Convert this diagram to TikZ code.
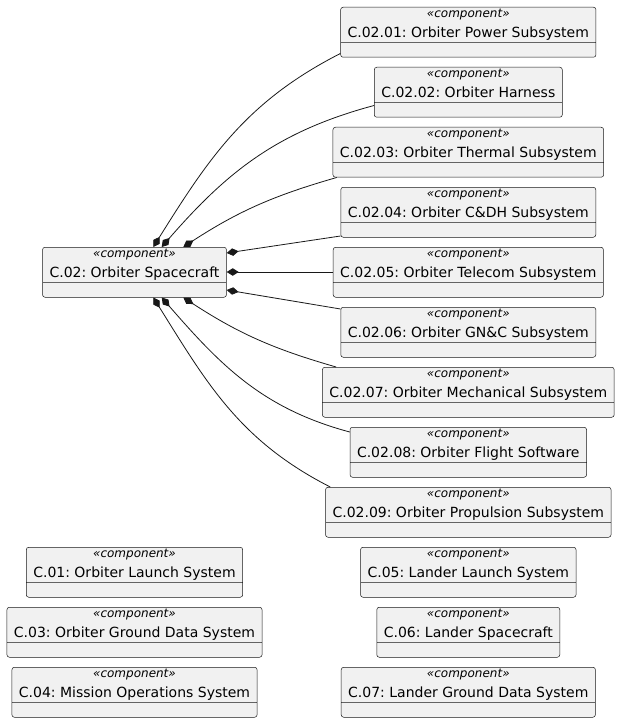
\documentclass[tikz,border=0pt]{standalone}
\usepackage{fontspec}
\setmainfont{DejaVu Sans}
\frenchspacing
\usetikzlibrary{shapes.multipart,arrows.meta,positioning}
\definecolor{boxfill}{HTML}{F1F1F1}
\definecolor{boxline}{HTML}{181818}
\newcommand{\compname}[1]{\rule{0pt}{10pt}{\fontsize{12}{12}\selectfont\itshape «component»}\\#1\rule[-5pt]{0pt}{5pt}\nodepart{two}\rule{0pt}{14.3pt}}

\begin{document}
\begin{tikzpicture}[x=1pt, y=1pt, node distance=9.5pt,
    comp/.style={rectangle split, rectangle split parts=2, draw=boxline, fill=boxfill,
      line width=0.5pt, rounded corners=2.5pt, inner xsep=7pt, inner ysep=0pt,
      align=center, font=\fontsize{14}{19.7}\selectfont, anchor=north},
    part/.style={{Diamond[length=12pt,width=7.5pt]}-, line width=0.8pt, draw=boxline}]
    \useasboundingbox (0,0) rectangle (619,-722);

    % orbiter and its subsystems
    \node (orbiter) [comp] at (134.5,-247) {\compname{C.02: Orbiter Spacecraft}};
    \node (power) [comp] at (468.3,-7) {\compname{C.02.01: Orbiter Power Subsystem}};
    \node (harness) [comp, below=of power] {\compname{C.02.02: Orbiter Harness}};
    \node (thermal) [comp, below=of harness] {\compname{C.02.03: Orbiter Thermal Subsystem}};
    \node (cdh) [comp, below=of thermal] {\compname{C.02.04: Orbiter C\&DH Subsystem}};
    \node (telecom) [comp, below=of cdh] {\compname{C.02.05: Orbiter Telecom Subsystem}};
    \node (gnc) [comp, below=of telecom] {\compname{C.02.06: Orbiter GN\&C Subsystem}};
    \node (mech) [comp, below=of gnc] {\compname{C.02.07: Orbiter Mechanical Subsystem}};
    \node (fsw) [comp, below=of mech] {\compname{C.02.08: Orbiter Flight Software}};
    \node (prop) [comp, below=of fsw] {\compname{C.02.09: Orbiter Propulsion Subsystem}};

    % other systems
    \node (olaunch) [comp] at (134.5,-547) {\compname{C.01: Orbiter Launch System}};
    \node (ogds) [comp, below=of olaunch] {\compname{C.03: Orbiter Ground Data System}};
    \node (mos) [comp, below=of ogds] {\compname{C.04: Mission Operations System}};
    \node (llaunch) [comp, below=of prop] {\compname{C.05: Lander Launch System}};
    \node (lander) [comp, below=of llaunch] {\compname{C.06: Lander Spacecraft}};
    \node (lgds) [comp, below=of lander] {\compname{C.07: Lander Ground Data System}};

    \draw [part] ([xshift=18.8pt]orbiter.north) to[out=58,in=207] ([yshift=4pt]power.south west);
    \draw [part] ([xshift=27.2pt]orbiter.north) to[out=49,in=195] ([yshift=12pt]harness.south west);
    \draw [part] ([xshift=48.8pt]orbiter.north) to[out=33,in=196] ([xshift=4pt]thermal.south west);
    \draw [part] ([yshift=-6pt]orbiter.north east) -- ([yshift=1.5pt]cdh.south west);
    \draw [part] ([yshift=-25pt]orbiter.north east) -- ([yshift=-25pt]telecom.north west);
    \draw [part] ([yshift=-43pt]orbiter.north east) -- ([yshift=-2pt]gnc.north west);
    \draw [part] ([xshift=48.8pt]orbiter.south) to[out=-33,in=164] ([xshift=14pt]mech.north west);
    \draw [part] ([xshift=27.2pt]orbiter.south) to[out=-49,in=165] ([yshift=-5pt]fsw.north west);
    \draw [part] ([xshift=18.8pt]orbiter.south) to[out=-58,in=153] ([xshift=5pt]prop.north west);
\end{tikzpicture}
\end{document}
